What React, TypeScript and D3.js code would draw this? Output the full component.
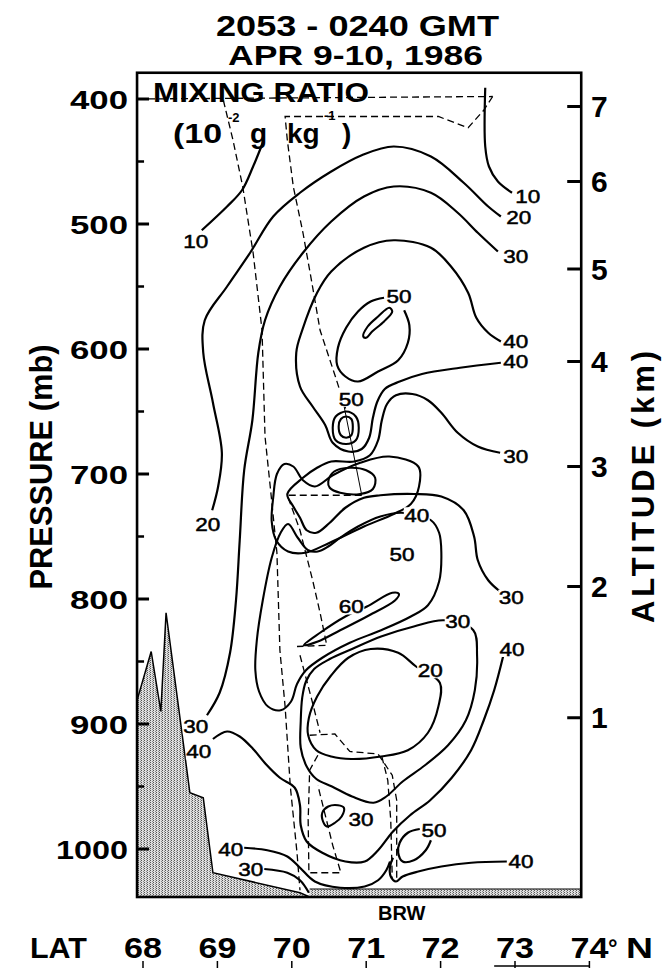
import React from "react";
import * as d3 from "d3";

type Pt = [number, number];

const W = 662;
const H = 968;
const FONT = '"Liberation Sans", Arial, Helvetica, sans-serif';

// frame limits (latitude, pressure in mb)
const LAT_WEST = 67.92;
const LAT_EAST = 73.89;
const P_TOP = 379;
const P_SURFACE = 1038.4;

const latTicks = [68, 69, 70, 71, 72, 73, 74];
const pressureTicks = [400, 500, 600, 700, 800, 900, 1000];
const pressureMinor = [450, 550, 650, 750, 850, 950];
const altitudeKm = [1, 2, 3, 4, 5, 6, 7];
const altitudeP = [895, 790, 694, 610, 536, 466, 406];

// mixing ratio contours, [lat, pressure]
const c10West: Pt[] = [[69.61, 435], [69.48, 454], [69.33, 473], [69.13, 486], [68.79, 505]];
const c10East: Pt[] = [[72.6, 391], [72.6, 438], [72.65, 454], [72.77, 466], [72.96, 475]];
const c20Upper: Pt[] = [[68.93, 729], [69.01, 710], [69.06, 683], [68.94, 643], [68.81, 603], [68.83, 577], [69.13, 550], [69.44, 523], [69.75, 494], [70.11, 475], [70.53, 458], [70.94, 445], [71.37, 438], [71.87, 446], [72.31, 467], [72.64, 486], [72.81, 494]];
const c30Upper: Pt[] = [[68.86, 893], [69.03, 875], [69.17, 843], [69.25, 801], [69.3, 753], [69.36, 697], [69.47, 657], [69.55, 603], [69.64, 577], [69.84, 550], [70.15, 523], [70.53, 498], [70.97, 478], [71.37, 470], [71.87, 475], [72.23, 491], [72.5, 507], [72.77, 522]];
const c40Upper: Pt[] = [[72.81, 594], [72.64, 587], [72.48, 575], [72.37, 555], [72.14, 534], [71.87, 519], [71.37, 513], [70.97, 519], [70.53, 538], [70.34, 555], [70.14, 585], [70.06, 603], [70.11, 630], [70.28, 646], [70.45, 661], [70.55, 675], [70.76, 682], [70.94, 680], [71.04, 671], [71.09, 655], [71.15, 642], [71.25, 632], [71.45, 626], [71.75, 620], [72.26, 615], [72.81, 611]];
const c50Upper: Pt[] = [[71.24, 559], [71.06, 562], [70.89, 570], [70.73, 583], [70.62, 599], [70.61, 613], [70.72, 622], [70.89, 626], [71.16, 618], [71.43, 609], [71.56, 595], [71.58, 581], [71.51, 569]];
const c50UpperCore: Pt[] = [[70.96, 590], [71.02, 582], [71.16, 574], [71.31, 567], [71.35, 570], [71.24, 578], [71.08, 586], [71.0, 591]];
const c50Eye: Pt[] = [[70.55, 663], [70.59, 654], [70.73, 650], [70.86, 654], [70.9, 663], [70.86, 673], [70.73, 676], [70.59, 673]];
const c60Eye: Pt[] = [[70.63, 662], [70.66, 656], [70.73, 654], [70.8, 656], [70.82, 662], [70.8, 669], [70.73, 671], [70.66, 669]];
const c30Mid: Pt[] = [[72.8, 683], [72.5, 678], [72.23, 667], [72.01, 651], [71.83, 641], [71.62, 636], [71.4, 637], [71.28, 644], [71.21, 657], [71.16, 673], [71.05, 685], [70.84, 690], [70.53, 690], [70.34, 695], [70.15, 703], [69.94, 716], [70.02, 726], [70.11, 735], [70.2, 745], [70.33, 747], [70.51, 739], [70.72, 727], [70.97, 719], [71.19, 717], [71.64, 716], [72.01, 718], [72.31, 729], [72.45, 750], [72.5, 769], [72.64, 785], [72.8, 794]];
const c700Oval: Pt[] = [[70.49, 706], [70.57, 698], [70.78, 695], [71.0, 697], [71.12, 703], [71.09, 712], [70.92, 716], [70.65, 715], [70.51, 711]];
const c40Mid: Pt[] = [[71.48, 731], [71.19, 734], [70.89, 742], [70.65, 751], [70.49, 758], [70.35, 762], [70.22, 761], [70.08, 751], [69.95, 740], [69.85, 747], [69.73, 767], [69.61, 801], [69.53, 833], [69.51, 857], [69.56, 874], [69.68, 886], [69.85, 889], [69.99, 882], [70.07, 868], [70.19, 857], [70.41, 847], [70.78, 835], [71.2, 825], [71.6, 814], [71.83, 805], [71.98, 786], [72.01, 763], [71.98, 747], [71.87, 737]];
const c50Mid: Pt[] = [[71.31, 686], [70.92, 691], [70.55, 701], [70.31, 710], [70.15, 705], [70.02, 694], [69.9, 692], [69.8, 700], [69.75, 719], [69.73, 738], [69.79, 753], [69.95, 762], [70.18, 763], [70.51, 755], [70.97, 742], [71.37, 732], [71.6, 724], [71.71, 710], [71.7, 694]];
const c60Mid: Pt[] = [[70.16, 837], [70.38, 827], [70.72, 814], [71.01, 806], [71.35, 795], [71.44, 796], [71.39, 801], [71.01, 814], [70.65, 825], [70.35, 834]];
const c30Low: Pt[] = [[72.05, 817], [72.44, 825], [72.49, 845], [72.46, 873], [72.34, 897], [72.1, 917], [71.79, 933], [71.49, 946], [71.27, 958], [71.1, 963], [70.81, 958], [70.54, 950], [70.33, 944], [70.2, 934], [70.12, 919], [70.12, 898], [70.14, 879], [70.19, 866], [70.3, 856], [70.51, 848], [70.81, 840], [71.2, 830], [71.64, 822]];
const c20Low: Pt[] = [[71.67, 854], [71.43, 843], [71.06, 840], [70.76, 847], [70.53, 861], [70.34, 878], [70.23, 895], [70.22, 909], [70.33, 921], [70.53, 926], [70.8, 928], [71.2, 926], [71.56, 921], [71.83, 907], [71.97, 886], [71.99, 867]];
const c40Lower: Pt[] = [[72.84, 846], [72.72, 873], [72.58, 897], [72.41, 921], [72.15, 943], [71.86, 961], [71.59, 973], [71.36, 986], [71.16, 1001], [70.98, 1010], [70.72, 1010], [70.41, 1003], [70.2, 994], [70.12, 981], [70.11, 965], [70.04, 951], [69.84, 943], [69.65, 932], [69.48, 920], [69.3, 910], [69.13, 906], [68.94, 912]];
const c30Small: Pt[] = [[70.42, 978], [70.41, 971], [70.49, 966], [70.62, 965], [70.7, 967], [70.67, 974], [70.58, 979], [70.47, 982]];
const c50Small: Pt[] = [[71.72, 984], [71.56, 987], [71.45, 995], [71.43, 1003], [71.49, 1010], [71.64, 1009], [71.8, 1001], [71.87, 993]];
const c40Surface: Pt[] = [[69.36, 999], [69.67, 1001], [69.94, 1006], [70.11, 1015], [70.31, 1026], [70.65, 1031], [70.98, 1030], [71.16, 1025], [71.27, 1017], [71.32, 1010]];
const c40East: Pt[] = [[72.89, 1010], [72.41, 1011], [72.01, 1014], [71.7, 1018], [71.49, 1022], [71.4, 1026], [71.33, 1022], [71.32, 1014], [71.36, 1007]];
const c30Surface: Pt[] = [[69.63, 1016], [69.94, 1019], [70.11, 1025], [70.23, 1035]];

const contourLabels: { text: string; lat: number; p: number }[] = [
  { text: "10", lat: 68.71, p: 514 }, { text: "10", lat: 73.17, p: 478 },
  { text: "20", lat: 73.05, p: 495 }, { text: "30", lat: 73.01, p: 526 },
  { text: "50", lat: 71.44, p: 558 }, { text: "40", lat: 73.01, p: 594 },
  { text: "40", lat: 73.01, p: 610 }, { text: "50", lat: 70.8, p: 640 },
  { text: "30", lat: 73.01, p: 686 }, { text: "20", lat: 68.87, p: 740 },
  { text: "40", lat: 71.68, p: 733 }, { text: "50", lat: 71.48, p: 764 },
  { text: "30", lat: 72.95, p: 799 }, { text: "60", lat: 70.8, p: 806 },
  { text: "30", lat: 72.23, p: 818 }, { text: "40", lat: 72.96, p: 840 },
  { text: "20", lat: 71.86, p: 857 }, { text: "30", lat: 68.71, p: 902 },
  { text: "40", lat: 68.75, p: 922 }, { text: "30", lat: 70.93, p: 976 },
  { text: "50", lat: 71.91, p: 985 }, { text: "40", lat: 73.08, p: 1010 },
  { text: "40", lat: 69.18, p: 1000 }, { text: "30", lat: 69.45, p: 1016 },
];

// terrain profile and flight track
const terrain: Pt[] = [[67.92, 1038.4], [67.92, 881], [68.11, 842], [68.24, 890], [68.31, 811], [68.63, 955], [68.81, 959], [68.94, 1019], [70.11, 1035], [70.24, 1038.4]];
const trackTop: Pt[] = [[67.92, 400], [72.7, 398]];
const trackReturn: Pt[] = [[72.7, 398], [72.58, 409], [72.37, 423], [71.97, 414], [69.91, 414], [69.94, 433], [70.02, 470], [70.15, 507], [70.27, 547], [70.38, 585], [70.58, 621], [70.73, 649]];
const trackThin: Pt[] = [[70.7, 645], [70.82, 681], [70.94, 717]];
const trackLeg: Pt[] = [[70.94, 717], [69.94, 717], [70.11, 745], [70.28, 785], [70.38, 811], [70.47, 837], [70.07, 838]];
const trackDescent: Pt[] = [[69.08, 401], [69.21, 433], [69.34, 470], [69.48, 523], [69.6, 585], [69.64, 670], [69.71, 710], [69.8, 763], [69.84, 841], [69.91, 886], [69.98, 950], [70.07, 1003], [70.11, 1033]];
const trackLow: Pt[] = [[70.11, 845], [70.27, 881], [70.38, 907]];
const trackBoxA: Pt[] = [[70.24, 909], [70.58, 908], [70.78, 922], [71.16, 924], [71.35, 941], [71.41, 961], [71.41, 1023]];
const trackBoxB: Pt[] = [[71.21, 926], [71.29, 945], [71.33, 977], [71.35, 1023]];
const trackBoxC: Pt[] = [[70.35, 925], [70.24, 937], [70.22, 977], [70.23, 1019], [70.66, 1019], [70.55, 997], [70.45, 973], [70.35, 949]];

const x = d3.scaleLinear().domain([68, 74]).range([143, 589.4]);
const y = d3.scaleLinear().domain([400, 1000]).range([99, 849]);

const smooth = d3.line<Pt>().x(d => x(d[0])).y(d => y(d[1])).curve(d3.curveCatmullRom.alpha(0.5));
const smoothClosed = d3.line<Pt>().x(d => x(d[0])).y(d => y(d[1])).curve(d3.curveCatmullRomClosed.alpha(0.5));
const straight = d3.line<Pt>().x(d => x(d[0])).y(d => y(d[1]));

const openContours = [c10West, c10East, c20Upper, c30Upper, c40Upper, c50Upper, c30Mid, c40Lower, c50Small, c40Surface, c40East, c30Surface];
const closedContours = [c50UpperCore, c50Eye, c60Eye, c700Oval, c40Mid, c50Mid, c60Mid, c30Low, c20Low, c30Small];
const tracks = [trackTop, trackReturn, trackLeg, trackDescent, trackLow, trackBoxA, trackBoxB, trackBoxC];

export default function App() {
  const left = x(LAT_WEST);
  const right = x(LAT_EAST);
  const top = y(P_TOP);
  const bottom = y(P_SURFACE);
  const bold = { fontWeight: "bold" as const };

  return (
    <svg width={W} height={H} style={{ position: "absolute", left: 0, top: 0 }} fontFamily={FONT}>
      <defs>
        <pattern id="stipple" width="3" height="2" patternUnits="userSpaceOnUse">
          <rect width="3" height="2" fill="#dedede" />
          <rect width="1" height="1" fill="#555" />
          <rect x="2" y="1" width="1" height="1" fill="#888" />
        </pattern>
      </defs>
      <rect width={W} height={H} fill="#fff" />

      {/* title */}
      <text x={216} y={36} fontSize={29} {...bold} textLength={283} lengthAdjust="spacingAndGlyphs">2053 - 0240 GMT</text>
      <text x={228} y={65} fontSize={28} {...bold} textLength={255} lengthAdjust="spacingAndGlyphs">APR 9-10, 1986</text>

      {/* legend text */}
      <text x={153} y={102} fontSize={28} {...bold} textLength={216} lengthAdjust="spacingAndGlyphs">MIXING RATIO</text>
      <text x={173} y={143} fontSize={28} {...bold} textLength={49} lengthAdjust="spacingAndGlyphs">(10</text>
      <text x={228} y={122} fontSize={13} {...bold}>-2</text>
      <text x={250} y={143} fontSize={28} {...bold}>g</text>
      <text x={287} y={143} fontSize={28} {...bold}>kg</text>
      <text x={324} y={120} fontSize={13} {...bold}>-1</text>
      <text x={342} y={143} fontSize={28} {...bold}>)</text>

      {/* terrain */}
      <path d={straight(terrain) + "Z"} fill="url(#stipple)" stroke="#000" strokeWidth={1.5} />
      <rect x={x(70.24)} y={y(1032)} width={right - x(70.24)} height={bottom - y(1032)} fill="url(#stipple)" />
      <line x1={x(70.24)} x2={right} y1={y(1032)} y2={y(1032)} stroke="#000" strokeWidth={1} />

      {/* contours */}
      {openContours.map((c, i) => (
        <path key={"o" + i} d={smooth(c) || ""} fill="none" stroke="#000" strokeWidth={2.2} />
      ))}
      {closedContours.map((c, i) => (
        <path key={"c" + i} d={smoothClosed(c) || ""} fill="none" stroke="#000" strokeWidth={2.1} />
      ))}

      {/* flight track */}
      {tracks.map((t, i) => (
        <path key={"t" + i} d={straight(t) || ""} fill="none" stroke="#000" strokeWidth={1.3} strokeDasharray="7 4" />
      ))}
      <path d={straight(trackThin) || ""} fill="none" stroke="#000" strokeWidth={1} />

      {/* contour labels */}
      {contourLabels.map((l, i) => (
        <g key={"l" + i}>
          <rect x={x(l.lat) - 13} y={y(l.p) - 8} width={26} height={16} fill="#fff" />
          <text x={x(l.lat) - 12.5} y={y(l.p) + 6.5} fontSize={18} stroke="#000" strokeWidth={0.5} textLength={25} lengthAdjust="spacingAndGlyphs">{l.text}</text>
        </g>
      ))}

      {/* frame */}
      <rect x={left} y={top} width={right - left} height={bottom - top} fill="none" stroke="#000" strokeWidth={2.6} />

      {/* pressure axis */}
      {pressureTicks.map(p => (
        <g key={"p" + p}>
          <line x1={left} x2={left + 12} y1={y(p)} y2={y(p)} stroke="#000" strokeWidth={3} />
          <text x={128 - (p >= 1000 ? 72 : 58)} y={y(p) + 10} fontSize={26} {...bold} textLength={p >= 1000 ? 72 : 58} lengthAdjust="spacingAndGlyphs">{p}</text>
        </g>
      ))}
      {pressureMinor.map(p => (
        <line key={"m" + p} x1={left} x2={left + 7} y1={y(p)} y2={y(p)} stroke="#000" strokeWidth={2.5} />
      ))}
      <text transform="translate(52,467) rotate(-90)" x={-122.5} y={0} fontSize={32} {...bold} textLength={245} lengthAdjust="spacingAndGlyphs">PRESSURE (mb)</text>

      {/* altitude axis */}
      {altitudeKm.map((k, i) => (
        <g key={"k" + k}>
          <line x1={right} x2={right - 14} y1={y(altitudeP[i])} y2={y(altitudeP[i])} stroke="#000" strokeWidth={3} />
          <text x={591} y={y(altitudeP[i]) + 10.5} fontSize={30} {...bold}>{k}</text>
        </g>
      ))}
      <text transform="translate(654,487) rotate(-90)" x={-136} y={0} fontSize={31} {...bold} textLength={272} lengthAdjust="spacing">ALTITUDE (km)</text>

      {/* latitude axis */}
      <text x={378} y={920} fontSize={20} {...bold}>BRW</text>
      <text x={30} y={958} fontSize={29} {...bold} textLength={57} lengthAdjust="spacingAndGlyphs">LAT</text>
      {latTicks.map(l => (
        <g key={"lat" + l}>
          <text x={x(l) - 19} y={958} fontSize={29} {...bold} textLength={38} lengthAdjust="spacingAndGlyphs">{l}</text>
          <line x1={x(l)} x2={x(l)} y1={961} y2={968} stroke="#000" strokeWidth={1.5} />
        </g>
      ))}
      <text x={608} y={956} fontSize={24} {...bold}>°</text>
      <text x={626} y={958} fontSize={29} {...bold} textLength={27} lengthAdjust="spacingAndGlyphs">N</text>
      <line x1={x(72.72)} x2={x(74)} y1={966} y2={966} stroke="#000" strokeWidth={1.5} />
    </svg>
  );
}
